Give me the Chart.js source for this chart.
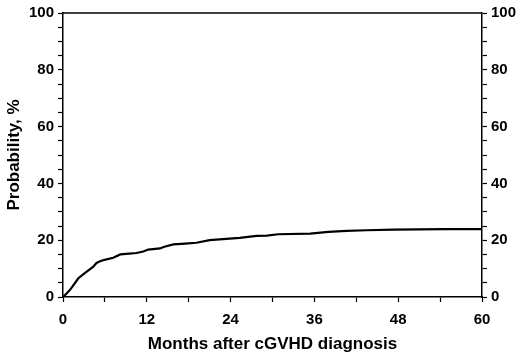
<!DOCTYPE html>
<html>
<head>
<meta charset="utf-8">
<script src="https://cdn.jsdelivr.net/npm/chart.js@4"></script>
<style>
    html, body { margin: 0; padding: 0; background: #fff; }
    #wrap { width: 520px; height: 359px; }
</style>
</head>
<body>
<div id="wrap"><canvas id="incidenceChart"></canvas></div>
<script>
// Months after diagnosis and cumulative probability (%)
const months = [0, 0.5, 1.0, 1.5, 2.2, 2.8, 3.4, 4.3, 4.8, 5.3, 5.8, 7.2, 8.2, 9.5, 10.5, 11.5, 12.2, 13.9, 14.4, 15.8, 17.5, 19.1, 21.0, 22.9, 25.3, 27.7, 29.2, 30.8, 35.4, 38.0, 40.6, 43.5, 47.3, 54.7, 60]
const probability = [0, 1.2, 2.5, 4.2, 6.6, 7.8, 8.9, 10.6, 12.0, 12.6, 13.0, 13.8, 15.0, 15.3, 15.5, 16.0, 16.7, 17.1, 17.6, 18.5, 18.8, 19.1, 20.0, 20.4, 20.8, 21.5, 21.6, 22.1, 22.3, 22.9, 23.3, 23.5, 23.7, 23.9, 23.9]

const xLabels = [0, 12, 24, 36, 48, 60]
const yLabels = [0, 20, 40, 60, 80, 100]

const font = { family: "'Liberation Sans', Arial, sans-serif", size: 15, weight: "bold" }
const titleFont = { family: "'Liberation Sans', Arial, sans-serif", size: 17, weight: "bold" }

const points = months.map((m, i) => ({ x: m, y: probability[i] }))

// y axis used on both sides
function yAxis(position, width) {
    return {
        type: "linear",
        position: position,
        min: 0,
        max: 100,
        ticks: {
            stepSize: 5,
            autoSkip: false,
            color: "#000",
            font: font,
            padding: 4,
            callback: (v) => (yLabels.includes(v) ? v : ""),
        },
        grid: { drawOnChartArea: false, color: "#000", tickLength: 5, tickWidth: 1.2 },
        border: { color: "#000", width: 1.5 },
        afterFit: (scale) => { scale.width = width },
    }
}

const leftY = yAxis("left", 63)
leftY.title = { display: true, text: "Probability, %", color: "#000", font: titleFont, padding: { top: 4, bottom: 0 } }
const rightY = yAxis("right", 38)

// top line to close the box
const topBorder = {
    id: "topBorder",
    afterDraw(chart) {
        const { ctx, chartArea } = chart
        ctx.save()
        ctx.strokeStyle = "#000"
        ctx.lineWidth = 1.5
        ctx.beginPath()
        ctx.moveTo(chartArea.left, chartArea.top)
        ctx.lineTo(chartArea.right, chartArea.top)
        ctx.stroke()
        ctx.restore()
    },
}

const ctx = document.getElementById("incidenceChart").getContext("2d")

const incidenceChart = new Chart(ctx, {
    type: "line",
    data: {
        datasets: [
            {
                data: points,
                borderColor: "#000",
                borderWidth: 2.2,
                pointRadius: 0,
                fill: false,
            },
        ],
    },
    options: {
        responsive: true,
        maintainAspectRatio: false,
        animation: false,
        layout: { padding: { top: 12, left: 0, right: 0, bottom: 0 } },
        plugins: { legend: { display: false }, tooltip: { enabled: false } },
        scales: {
            x: {
                type: "linear",
                min: 0,
                max: 60,
                ticks: {
                    stepSize: 6,
                    color: "#000",
                    font: font,
                    padding: 9,
                    maxRotation: 0,
                    autoSkip: false,
                    callback: (v) => (xLabels.includes(v) ? v : ""),
                },
                grid: { drawOnChartArea: false, color: "#000", tickLength: 5, tickWidth: 1.2 },
                border: { color: "#000", width: 1.5 },
                title: { display: true, text: "Months after cGVHD diagnosis", color: "#000", font: titleFont, padding: { top: 9 } },
                afterFit: (scale) => { scale.height = 62 },
            },
            y: leftY,
            y2: rightY,
        },
    },
    plugins: [topBorder],
})
</script>
</body>
</html>
